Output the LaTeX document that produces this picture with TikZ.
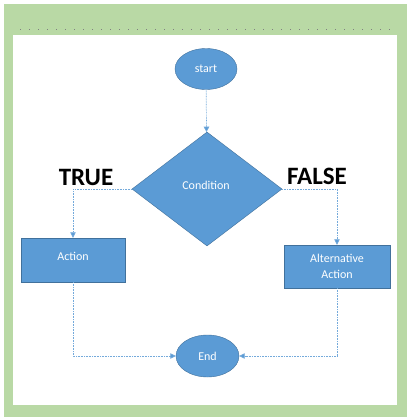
\documentclass[tikz,border=0pt]{standalone}
\usepackage{fontspec}
\setmainfont{Carlito}
\usetikzlibrary{shapes.geometric,arrows.meta}
\definecolor{boxblue}{HTML}{5B9BD5}
\definecolor{boxedge}{HTML}{41719C}
\definecolor{framegreen}{HTML}{B9D9A5}
\begin{document}
\begin{tikzpicture}[x=1pt,y=-1pt,
  shapebase/.style={fill=boxblue,draw=boxedge,line width=0.4pt,text=white,font=\fontsize{12}{14}\selectfont,inner sep=0pt},
  oval/.style={shapebase,ellipse,minimum width=62pt,minimum height=41pt},
  rectbox/.style={shapebase,rectangle,align=center},
  decision/.style={shapebase,diamond,minimum width=150pt,minimum height=114pt},
  conn/.style={draw=boxblue!85,line width=0.7pt,dash pattern=on 0.8pt off 0.8pt,-{Triangle[length=5.5pt,width=5.5pt,fill=boxblue]}},
  biglabel/.style={font=\fontsize{25}{28}\selectfont\bfseries,text=black}]
\useasboundingbox (0,0) rectangle (410,420);
\fill[white] (0,0) rectangle (410,420);
\fill[framegreen] (4,4) rectangle (407,417);
\fill[white] (13,35) rectangle (397,405);
\draw[gray,line width=1pt,dash pattern=on 1pt off 8pt] (20,30) -- (394,30);
\node[oval] (start) at (206,69) {start};
\node[decision] (cond) at (207,189) {};
\node[shapebase,draw=none,fill=none] (condtext) at (206,185) {Condition};
\node[rectbox,minimum width=104pt,minimum height=44pt] (action) at (73,260) {};
\node[shapebase,draw=none,fill=none] (actiontext) at (73,256) {Action};
\node[rectbox,minimum width=106pt,minimum height=43pt] (alt) at (337,266.5) {Alternative\\[2pt]Action};
\node[oval,minimum width=63pt,minimum height=42pt] (end) at (207.5,356) {End};
\node[biglabel] (true) at (86,177) {TRUE};
\node[biglabel] (false) at (317,176) {FALSE};
\draw[conn] (start) -- (cond);
\draw[conn] (cond.west) -| (action.north);
\draw[conn] (cond.east) -| (alt.north);
\draw[conn] (action.south) |- (end.west);
\draw[conn] (alt.south) |- (end.east);
\end{tikzpicture}
\end{document}
